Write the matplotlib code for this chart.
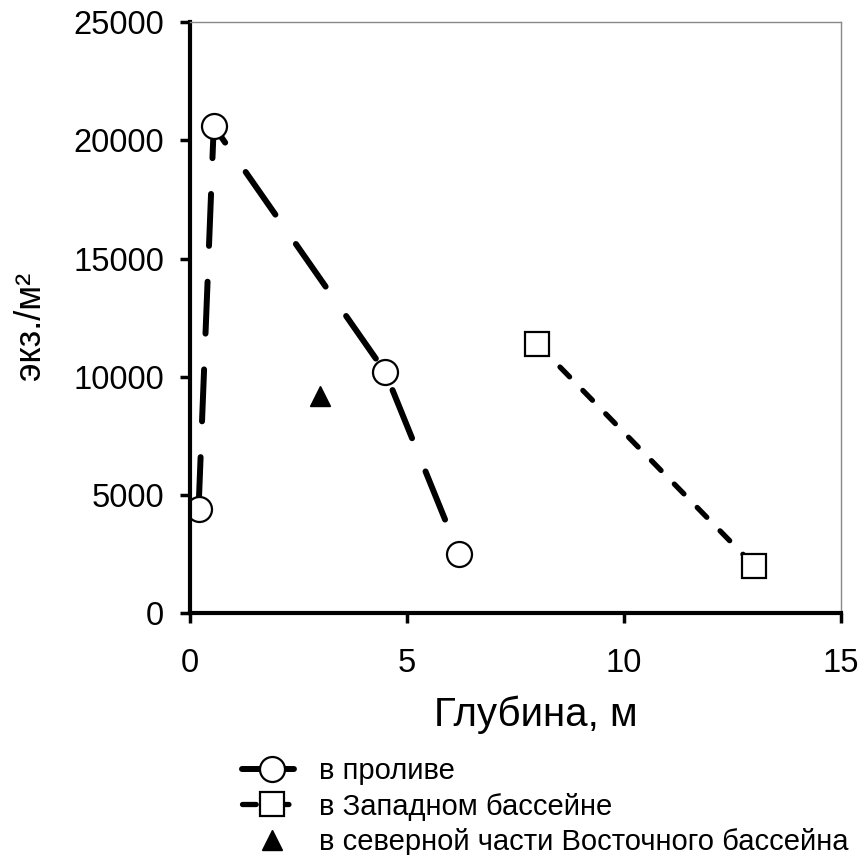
import numpy as np
import matplotlib
matplotlib.use("Agg")
import matplotlib.pyplot as plt

plt.rcParams["font.family"] = ["Liberation Sans", "DejaVu Sans"]

# ── Данные ──────────────────────────────────────────────────────────────────
strait_x = [0.2, 0.55, 4.5, 6.2]
strait_y = [4400, 20600, 10200, 2500]

west_x = [8.0, 13.0]
west_y = [11400, 2000]

east_x = [3.0]
east_y = [9200]

labels = ["в проливе", "в Западном бассейне",
          "в северной части Восточного бассейна"]

xticks = [0, 5, 10, 15]
yticks = [0, 5000, 10000, 15000, 20000, 25000]

# ── Фигура ──────────────────────────────────────────────────────────────────
fig = plt.figure(figsize=(8.63, 8.55), dpi=100, facecolor="white")
ax = fig.add_axes([0.220, 0.283, 0.7545, 0.691])

l1, = ax.plot(strait_x, strait_y, color="black", linewidth=4.3,
              dashes=[8.7, 6], dash_capstyle="round",
              marker="o", markersize=18, markerfacecolor="white",
              markeredgecolor="black", markeredgewidth=1.6, label=labels[0])
l2, = ax.plot(west_x, west_y, color="black", linewidth=3.8,
              dashes=[2.6, 3.6], dash_capstyle="round",
              marker="s", markersize=17, markerfacecolor="white",
              markeredgecolor="black", markeredgewidth=1.6, label=labels[1])
l3, = ax.plot(east_x, east_y, linestyle="none", marker="^", markersize=14,
              color="black", label=labels[2])

ax.set_xlim(0, 15)
ax.set_ylim(0, 25000)
ax.set_xticks(xticks)
ax.set_yticks(yticks)
ax.tick_params(direction="out", length=7, width=2.5, labelsize=23.5,
               colors="black")
ax.tick_params(axis="y", pad=11.5)
ax.tick_params(axis="x", pad=18)

for side in ["left", "bottom"]:
    ax.spines[side].set_linewidth(3)
    ax.spines[side].set_color("black")
for side in ["top", "right"]:
    ax.spines[side].set_linewidth(1)
    ax.spines[side].set_color("#888888")

ax.set_xlabel("Глубина, м", fontsize=29)
ax.xaxis.set_label_coords(0.531, -0.139)
ax.set_ylabel("экз./м²", fontsize=26)
ax.yaxis.set_label_coords(-0.218, 0.486)

fig.legend(handles=[l1, l2, l3], loc="upper left",
           bbox_to_anchor=(0.2665, 0.128), frameon=False, fontsize=21,
           handlelength=2.1, handletextpad=0.55, labelspacing=0.25,
           borderaxespad=0)

fig.savefig("out.png", dpi=100, facecolor="white")
